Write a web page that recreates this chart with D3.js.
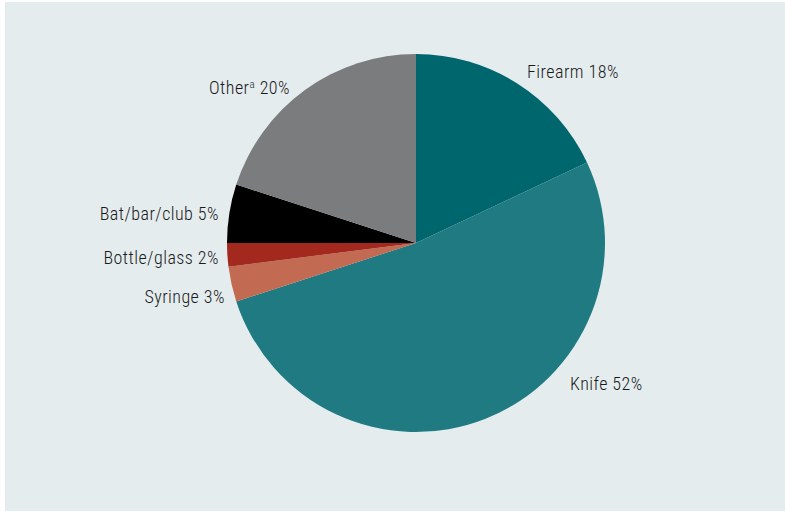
<!DOCTYPE html>
<html>
<head>
<meta charset="utf-8">
<script src="https://cdn.jsdelivr.net/npm/d3@7"></script>
<style>
  html, body { margin: 0; padding: 0; background: #ffffff; }
  svg { display: block; }
  text { font-family: "Roboto Condensed", "Liberation Sans Narrow", sans-serif; font-size: 18px; font-weight: 300; letter-spacing: 0.45px; fill: #1a1a1a; }
</style>
</head>
<body>
<script>
// Weapon types, share of incidents (%)
const categories = ["Firearm", "Knife", "Syringe", "Bottle/glass", "Bat/bar/club", "Other"];
const shares = [18, 52, 3, 2, 5, 20];
const superscripts = ["", "", "", "", "", "a"];
const colours = ["#00666d", "#1f7b81", "#c26b52", "#a3291f", "#000000", "#7a7c7e"];

const W = 785, H = 513;
const cx = 416, cy = 243, r = 189;

const svg = d3.select("body").append("svg").attr("width", W).attr("height", H);

svg.append("rect")
  .attr("x", 5).attr("y", 2).attr("width", W - 5).attr("height", H - 4)
  .attr("fill", "#e4ecee");

const data = categories.map((c, i) => ({ name: c, value: shares[i], sup: superscripts[i], colour: colours[i] }));

const pie = d3.pie().value(d => d.value).sort(null);
const arcs = pie(data);
const arc = d3.arc().innerRadius(0).outerRadius(r);

const g = svg.append("g").attr("transform", `translate(${cx},${cy})`);
g.selectAll("path").data(arcs).join("path")
  .attr("d", arc)
  .attr("fill", d => d.data.colour);

// Label anchors placed just outside each slice
const labelPos = {
  "Firearm":      { x: 527, y: 78,  anchor: "start" },
  "Knife":        { x: 570, y: 390, anchor: "start" },
  "Syringe":      { x: 225, y: 303, anchor: "end" },
  "Bottle/glass": { x: 219, y: 264, anchor: "end" },
  "Bat/bar/club": { x: 219, y: 220, anchor: "end" },
  "Other":        { x: 290, y: 94,  anchor: "end" }
};

data.forEach(d => {
  const p = labelPos[d.name];
  const t = svg.append("text")
    .attr("x", p.x).attr("y", p.y)
    .attr("text-anchor", p.anchor);
  t.append("tspan").text(d.name);
  if (d.sup) {
    t.append("tspan").attr("dy", -6).style("font-size", "11px").text(d.sup);
    t.append("tspan").attr("dy", 6).text(" " + d.value + "%");
  } else {
    t.append("tspan").text(" " + d.value + "%");
  }
});
</script>
</body>
</html>
